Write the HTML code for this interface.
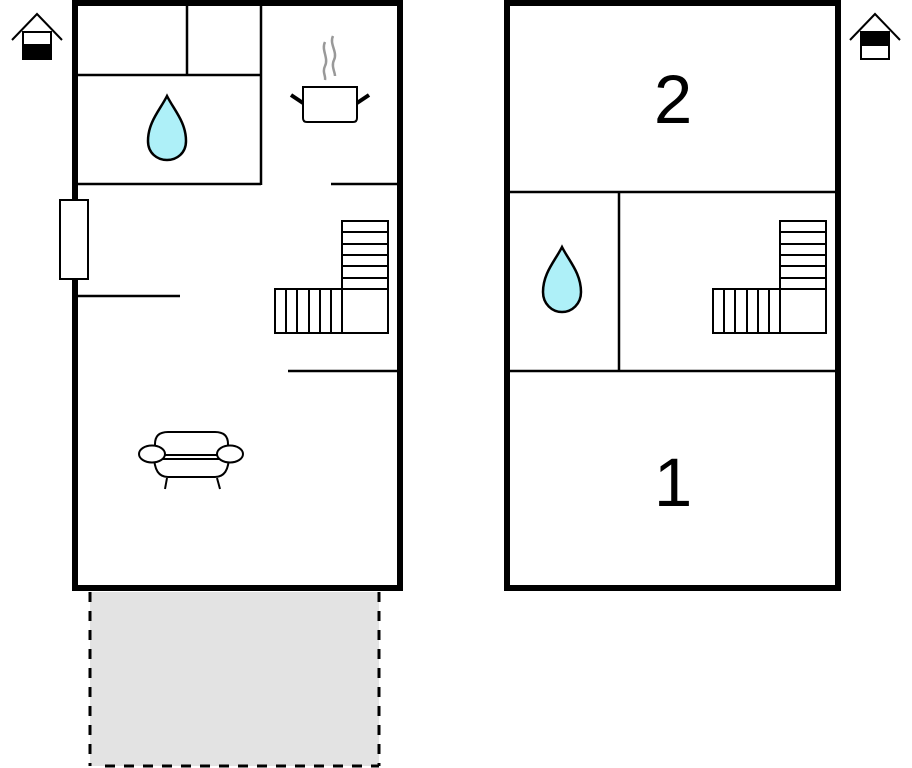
<!DOCTYPE html>
<html><head><meta charset="utf-8"><style>html,body{margin:0;padding:0;background:#fff}svg{display:block}</style></head>
<body>
<svg width="912" height="768" viewBox="0 0 912 768" xmlns="http://www.w3.org/2000/svg">
<!-- terrace -->
<rect x="90" y="592" width="289" height="174" fill="#e3e3e3"/>
<g stroke="#000" stroke-width="3" fill="none" stroke-dasharray="10,9">
<line x1="90" y1="592" x2="90" y2="766"/>
<line x1="379" y1="592" x2="379" y2="766"/>
<line x1="105" y1="766" x2="379" y2="766"/>
</g>
<!-- left building -->
<rect x="75" y="3" width="325" height="585" fill="none" stroke="#000" stroke-width="6"/>
<g stroke="#000" stroke-width="2.5" fill="none">
<line x1="77" y1="75" x2="261" y2="75"/>
<line x1="187" y1="3" x2="187" y2="75"/>
<line x1="261" y1="3" x2="261" y2="185"/>
<line x1="77" y1="184" x2="261" y2="184"/>
<line x1="331" y1="184" x2="397" y2="184"/>
<line x1="77" y1="296" x2="180" y2="296"/>
<line x1="288" y1="371" x2="397" y2="371"/>
</g>
<rect x="60" y="200" width="28" height="79" fill="#fff" stroke="#000" stroke-width="2"/>
<!-- stairs left -->
<g stroke="#000" stroke-width="2" fill="none">
<rect x="342" y="221" width="46" height="112"/>
<line x1="342" y1="232" x2="388" y2="232"/><line x1="342" y1="244" x2="388" y2="244"/><line x1="342" y1="255" x2="388" y2="255"/><line x1="342" y1="266" x2="388" y2="266"/><line x1="342" y1="278" x2="388" y2="278"/><line x1="342" y1="289" x2="388" y2="289"/>
<rect x="275" y="289" width="67" height="44"/>
<line x1="286" y1="289" x2="286" y2="333"/><line x1="297" y1="289" x2="297" y2="333"/><line x1="309" y1="289" x2="309" y2="333"/><line x1="320" y1="289" x2="320" y2="333"/><line x1="331" y1="289" x2="331" y2="333"/>
</g>
<!-- stairs right -->
<g stroke="#000" stroke-width="2" fill="none">
<rect x="780" y="221" width="46" height="112"/>
<line x1="780" y1="232" x2="826" y2="232"/><line x1="780" y1="244" x2="826" y2="244"/><line x1="780" y1="255" x2="826" y2="255"/><line x1="780" y1="266" x2="826" y2="266"/><line x1="780" y1="278" x2="826" y2="278"/><line x1="780" y1="289" x2="826" y2="289"/>
<rect x="713" y="289" width="67" height="44"/>
<line x1="724" y1="289" x2="724" y2="333"/><line x1="735" y1="289" x2="735" y2="333"/><line x1="747" y1="289" x2="747" y2="333"/><line x1="758" y1="289" x2="758" y2="333"/><line x1="769" y1="289" x2="769" y2="333"/>
</g>
<!-- drops -->
<path d="M167 96 C160 110 148 122 148 141 C148 153 157 160 167 160 C177 160 186 153 186 141 C186 122 174 110 167 96 Z" fill="#aef0f8" stroke="#000" stroke-width="2.5"/>
<path d="M562 247 C555 261 543 273 543 292 C543 304 552 312 562 312 C572 312 581 304 581 292 C581 273 569 261 562 247 Z" fill="#aef0f8" stroke="#000" stroke-width="2.5"/>
<!-- pot -->
<g stroke="#999" stroke-width="2.5" fill="none">
<path d="M325 42 C321 50 329 58 325 66 C322 72 326 76 325 80"/>
<path d="M333 36 C329 44 338 52 334 60 C331 66 335 72 335 76"/>
</g>
<path d="M303 87 H357 V118 Q357 122 353 122 H307 Q303 122 303 118 Z" fill="#fff" stroke="#000" stroke-width="2"/>
<line x1="291" y1="95" x2="303" y2="103" stroke="#000" stroke-width="4"/>
<line x1="357" y1="103" x2="369" y2="95" stroke="#000" stroke-width="4"/>
<!-- armchair -->
<g stroke="#000" stroke-width="2" fill="#fff">
<path d="M155 459 V444 Q155 432 168 432 H215 Q228 432 228 444 V459 Z"/>
<path d="M154 455 Q154 477 168 477 H215 Q229 477 229 455 Z"/>
<line x1="156" y1="459" x2="228" y2="459"/>
<ellipse cx="152" cy="454" rx="13" ry="8.5"/>
<ellipse cx="230" cy="454" rx="13" ry="8.5"/>
<line x1="167" y1="478" x2="165" y2="489"/>
<line x1="217" y1="478" x2="220" y2="489"/>
</g>
<!-- right building -->
<rect x="507" y="3" width="331" height="585" fill="none" stroke="#000" stroke-width="6"/>
<g stroke="#000" stroke-width="2.5">
<line x1="509" y1="192" x2="835" y2="192"/>
<line x1="619" y1="192" x2="619" y2="371"/>
<line x1="509" y1="371" x2="835" y2="371"/>
</g>
<text x="673" y="123" font-family="Liberation Sans, sans-serif" font-size="69" text-anchor="middle">2</text>
<text x="673" y="506" font-family="Liberation Sans, sans-serif" font-size="69" text-anchor="middle">1</text>
<!-- house icons -->
<g stroke="#000" stroke-width="2" fill="none">
<polyline points="12,40 37,14 62,40"/>
<rect x="23" y="32" width="28" height="27" fill="#fff"/>
<rect x="23" y="45" width="28" height="14" fill="#000"/>
<polyline points="850,40 875,14 900,40"/>
<rect x="861" y="32" width="28" height="27" fill="#fff"/>
<rect x="861" y="32" width="28" height="13" fill="#000"/>
</g>
</svg>
</body></html>
